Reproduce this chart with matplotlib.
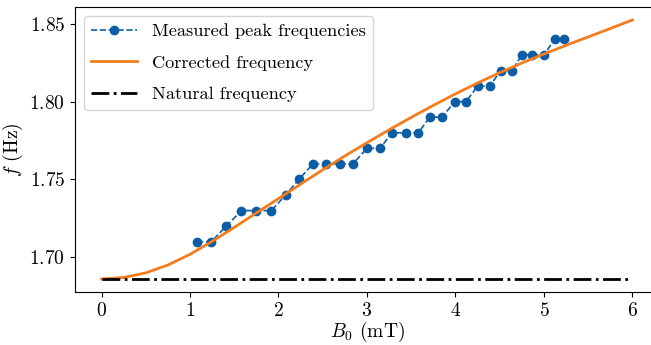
import matplotlib
matplotlib.use("Agg")
import matplotlib.pyplot as plt
import numpy as np

plt.rcParams['font.family'] = 'serif'
plt.rcParams['font.serif'] = ['cmr10']
plt.rcParams['mathtext.fontset'] = 'cm'
plt.rcParams['axes.formatter.use_mathtext'] = True
plt.rcParams['font.size'] = 14

# measured peaks
b_meas = [1.08, 1.24, 1.41, 1.58, 1.75, 1.92, 2.08, 2.23, 2.39, 2.54,
          2.70, 2.84, 3.00, 3.15, 3.28, 3.44, 3.58, 3.71, 3.85, 3.99,
          4.12, 4.25, 4.39, 4.51, 4.64, 4.75, 4.87, 5.00, 5.12, 5.23]
f_meas = [1.71, 1.71, 1.72, 1.73, 1.73, 1.73, 1.74, 1.75, 1.76, 1.76,
          1.76, 1.76, 1.77, 1.77, 1.78, 1.78, 1.78, 1.79, 1.79, 1.80,
          1.80, 1.81, 1.81, 1.82, 1.82, 1.83, 1.83, 1.83, 1.84, 1.84]

b_corr = [0.00, 0.25, 0.50, 0.75, 1.00, 1.25, 1.50, 1.75, 2.00, 2.25,
          2.50, 2.75, 3.00, 3.25, 3.50, 3.75, 4.00, 4.25, 4.50, 4.75,
          5.00, 5.25, 5.50, 5.75, 6.00]
f_corr = [1.6860, 1.6870, 1.6900, 1.6950, 1.7019, 1.7102, 1.7192, 1.7285,
          1.7377, 1.7470, 1.7562, 1.7651, 1.7736, 1.7819, 1.7899, 1.7976,
          1.8050, 1.8120, 1.8186, 1.8248, 1.8306, 1.8362, 1.8416, 1.8470,
          1.8525]

f_natural = 1.686
b_range = [0, 6]

fig = plt.figure(figsize=(6.51, 3.45), dpi=100)
ax = fig.add_axes([0.1152, 0.1536, 0.897, 0.8261])

ax.plot(b_meas, f_meas, '--o', color='#0c5da5', lw=1.2, ms=6,
        label='Measured peak frequencies')
ax.plot(b_corr, f_corr, '-', color='#f47c1c', lw=2, label='Corrected frequency')
ax.plot(b_range, [f_natural, f_natural], '-.', color='black', lw=2,
        label='Natural frequency')

ax.set_xticks([0, 1, 2, 3, 4, 5, 6])
ax.set_yticks([1.70, 1.75, 1.80, 1.85])
ax.set_xlabel(r'$B_0$ (mT)', labelpad=0)
ax.set_ylabel(r'$f$ (Hz)', labelpad=3)
ax.legend(loc='upper left', fontsize=13.2, labelspacing=0.85,
          handlelength=2.5)

fig.savefig('out.png', dpi=100)
